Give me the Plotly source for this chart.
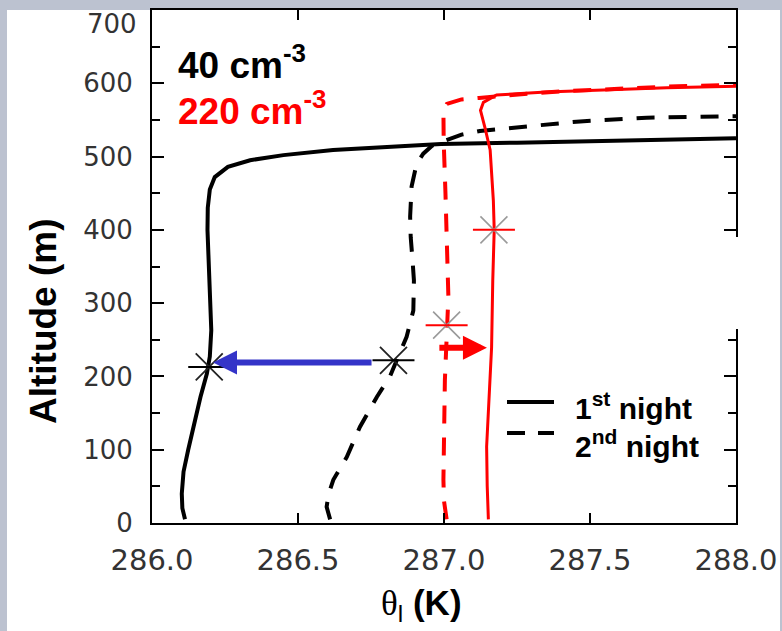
import plotly.graph_objects as go

# ---------------- data ----------------
# 40 cm-3, 1st night (black solid)
th_40_n1 = [286.113, 286.104, 286.102, 286.108, 286.124, 286.147, 286.166, 286.188, 286.198, 286.203,
            286.200, 286.194, 286.190, 286.191, 286.198, 286.215, 286.26, 286.336, 286.45, 286.62,
            286.79, 286.99, 287.25, 287.5, 287.75, 288.0]
z_40_n1 = [5, 20, 40, 70, 100, 140, 172, 204, 227, 263, 300, 350, 400, 430, 455, 472, 486, 495, 502, 509,
           513, 517, 519, 521, 523, 525]
# 40 cm-3, 2nd night (black dashed)
th_40_n2 = [286.61, 286.598, 286.605, 286.621, 286.667, 286.712, 286.770, 286.815, 286.838, 286.872,
            286.895, 286.897, 286.892, 286.886, 286.884, 286.889, 286.906, 286.929, 286.96, 287.009,
            287.06, 287.123, 287.26, 287.466, 287.694, 287.922, 288.0]
z_40_n2 = [5, 22, 40, 59, 90, 131, 172, 200, 222, 254, 290, 331, 360, 390, 418, 459, 490, 504, 515, 522,
           530, 535, 540, 548, 553, 554, 555]
# 220 cm-3, 1st night (red solid)
th_220_n1 = [287.152, 287.148, 287.146, 287.150, 287.155, 287.163, 287.167, 287.172, 287.169, 287.163,
             287.158, 287.140, 287.125, 287.135, 287.18, 287.35, 287.534, 287.763, 288.0]
z_220_n1 = [5, 50, 104, 140, 172, 240, 331, 400, 440, 480, 509, 540, 563, 574, 584, 588, 591, 594, 596]
# 220 cm-3, 2nd night (red dashed)
th_220_n2 = [287.009, 287.0, 286.998, 287.0, 287.003, 287.015, 287.012, 287.005, 286.999, 286.998,
             287.01, 287.06, 287.12, 287.2, 287.4, 287.6, 287.8, 288.0]
z_220_n2 = [5, 30, 59, 120, 195, 309, 360, 450, 520, 562, 572, 578, 580, 583, 589, 593, 596, 598]

# asterisk markers
star_black_th = [286.196, 286.827]
star_black_z = [213, 222]
star_red_th = [287.009, 287.171]
star_red_z = [270, 400]

# arrows: (tail_x, tail_y, head_x, head_y)
arrow_blue = (286.757, 219, 286.209, 219)
arrow_red = (286.979, 239, 287.147, 239)

x_ticks = [286.0, 286.5, 287.0, 287.5, 288.0]
y_ticks = [0, 100, 200, 300, 400, 500, 600, 700]
y_ticktext = [str(v) for v in y_ticks[:-1]] + [""]

legend_labels = ["<b>1<sup>st</sup> night</b>", "<b>2<sup>nd</sup> night</b>"]
legend_dash = ["solid", "18px,13px"]

# ---------------- figure ----------------
W, H = 782, 631
ML, MR, MT, MB = 152, 46, 10, 108
PW, PH = W - ML - MR, H - MT - MB


def px(xp):
    return (xp - ML) / PW


def py(yp):
    return (H - MB - yp) / PH


DASH = "18px,14px"
fig = go.Figure()
fig.add_trace(go.Scatter(x=th_40_n1, y=z_40_n1, mode="lines",
                         line=dict(color="black", width=4), showlegend=False))
fig.add_trace(go.Scatter(x=th_40_n2, y=z_40_n2, mode="lines",
                         line=dict(color="black", width=4, dash=DASH), showlegend=False))
fig.add_trace(go.Scatter(x=th_220_n2, y=z_220_n2, mode="lines",
                         line=dict(color="#ff0000", width=4, dash=DASH), showlegend=False))
fig.add_trace(go.Scatter(x=th_220_n1, y=z_220_n1, mode="lines",
                         line=dict(color="#ff0000", width=3), showlegend=False))

# asterisks
fig.add_trace(go.Scatter(x=star_black_th, y=star_black_z, mode="markers",
                         marker=dict(symbol="x-thin-open", size=27, color="#222",
                                     line=dict(color="#222", width=1.8)),
                         showlegend=False))
fig.add_trace(go.Scatter(x=star_black_th, y=star_black_z, mode="markers",
                         marker=dict(symbol="line-ew-open", size=30, color="black",
                                     line=dict(color="black", width=2)),
                         showlegend=False))
fig.add_trace(go.Scatter(x=star_red_th, y=star_red_z, mode="markers",
                         marker=dict(symbol="x-thin-open", size=27, color="#9a9a9a",
                                     line=dict(color="#9a9a9a", width=1.6)),
                         showlegend=False))
fig.add_trace(go.Scatter(x=star_red_th, y=star_red_z, mode="markers",
                         marker=dict(symbol="line-ew-open", size=30, color="#ff0000",
                                     line=dict(color="#ff0000", width=2)),
                         showlegend=False))

annotations = []
for arr, col in [(arrow_blue, "#3434c8"), (arrow_red, "#ff0000")]:
    annotations.append(dict(x=arr[2], y=arr[3], ax=arr[0], ay=arr[1], xref="x", yref="y",
                            axref="x", ayref="y", showarrow=True, arrowhead=2, arrowsize=0.8,
                            arrowwidth=6, arrowcolor=col, text=""))

BOLD = "Liberation Sans, Arial, sans-serif"
annotations += [
    dict(text="<b>40 cm<sup>-3</sup></b>", x=px(176), y=py(62), xref="paper", yref="paper",
         xanchor="left", yanchor="middle", showarrow=False, font=dict(family=BOLD, size=37, color="black")),
    dict(text="<b>220 cm<sup>-3</sup></b>", x=px(176), y=py(108), xref="paper", yref="paper",
         xanchor="left", yanchor="middle", showarrow=False, font=dict(family=BOLD, size=37, color="#ff0000")),
    dict(text="<b>Altitude (m)</b>", x=px(43), y=py(321), xref="paper", yref="paper", textangle=-90,
         xanchor="center", yanchor="middle", showarrow=False, font=dict(family=BOLD, size=37, color="black")),
    dict(text="<span style=\"font-family:'Liberation Serif'\">θ</span><sub>l</sub> <b>(K)</b>",
         x=px(421), y=py(605), xref="paper", yref="paper",
         xanchor="center", yanchor="middle", showarrow=False, font=dict(family=BOLD, size=35, color="black")),
    dict(text=str(y_ticks[-1]), x=px(139), y=y_ticks[-1], xref="paper", yref="y", yshift=-14,
         xanchor="right", yanchor="middle", showarrow=False,
         font=dict(family="DejaVu Sans", size=26, color="#333")),
]
leg_y_text = [406, 444]
leg_y_line = [402, 433]
shapes = []
for i, lab in enumerate(legend_labels):
    annotations.append(dict(text=lab, x=px(573), y=py(leg_y_text[i]), xref="paper", yref="paper",
                            xanchor="left", yanchor="middle", showarrow=False,
                            font=dict(family=BOLD, size=30, color="black")))
    shapes.append(dict(type="line", xref="paper", yref="paper", x0=px(507), x1=px(554),
                       y0=py(leg_y_line[i]), y1=py(leg_y_line[i]),
                       line=dict(color="black", width=4, dash=legend_dash[i])))

# white page panel on grey-blue slide background
shapes.append(dict(type="rect", xref="paper", yref="paper", layer="below",
                   x0=px(7), x1=px(780), y0=py(H + 5), y1=py(10),
                   line=dict(width=0), fillcolor="white"))
# white patch covering part of right axis
shapes.append(dict(type="rect", xref="paper", yref="paper", layer="above",
                   x0=px(720), x1=px(780), y0=py(329), y1=py(237),
                   line=dict(width=0), fillcolor="white"))

fig.update_layout(
    width=W, height=H,
    margin=dict(l=ML, r=MR, t=MT, b=MB, pad=0, autoexpand=False),
    paper_bgcolor="#bcc2d0", plot_bgcolor="white",
    showlegend=False,
    annotations=annotations, shapes=shapes,
    xaxis=dict(range=[286.0, 288.0], tickvals=x_ticks, tickformat=".1f", automargin=False,
               ticks="inside", ticklen=10, tickwidth=2, tickcolor="black",
               showline=True, linecolor="black", linewidth=2, mirror="ticks",
               showgrid=False, zeroline=False, ticklabelstandoff=10,
               tickfont=dict(family="DejaVu Sans", size=29, color="#333")),
    yaxis=dict(range=[0, 700], tickvals=y_ticks, ticktext=y_ticktext, automargin=False,
               ticks="inside", ticklen=12, tickwidth=2, tickcolor="black",
               minor=dict(dtick=50, ticks="inside", ticklen=8, tickwidth=2, tickcolor="black"),
               showline=True, linecolor="black", linewidth=2, mirror="ticks",
               showgrid=False, zeroline=False, ticklabelstandoff=12,
               tickfont=dict(family="DejaVu Sans", size=26, color="#333")),
)

fig.write_html("out.html")
